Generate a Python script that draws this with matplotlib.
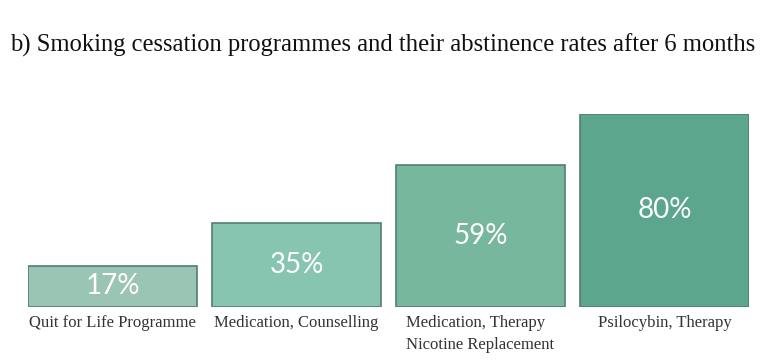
import matplotlib.pyplot as plt

programmes = ["Quit for Life Programme", "Medication, Counselling",
              "Medication, Therapy\nNicotine Replacement", "Psilocybin, Therapy"]
rates = [17, 35, 59, 80]
colors = ["#9ac4b3", "#88c5b0", "#77b79d", "#5ca68d"]

fig = plt.figure(figsize=(7.65, 3.64), dpi=100)
ax = fig.add_axes([28 / 765, 1 - 307 / 364, 721 / 765, 193 / 364])

x = range(len(rates))
bars = ax.bar(x, rates, width=0.92, color=colors, edgecolor="#557d70", linewidth=1.2)
for b, r in zip(bars, rates):
    ax.text(b.get_x() + b.get_width() / 2, r / 2, f"{r}%", ha="center", va="center",
            color="white", fontsize=20, family="Lato")

ax.set_xlim(-0.46, 3.46)
ax.set_ylim(0, 80)
ax.set_xticks(list(x))
ax.set_xticklabels(programmes, family="Liberation Serif", fontsize=12, color="#333333",
                   va="top", multialignment="left", linespacing=1.45)
ax.tick_params(axis="x", length=0, pad=6)
ax.set_yticks([])
for s in ax.spines.values():
    s.set_visible(False)

fig.text(10 / 765, 1 - 45 / 364, "b) Smoking cessation programmes and their abstinence rates after 6 months",
         family="Liberation Serif", fontsize=17.7, va="center", ha="left", color="#111111")

fig.savefig("out.png", dpi=100)
